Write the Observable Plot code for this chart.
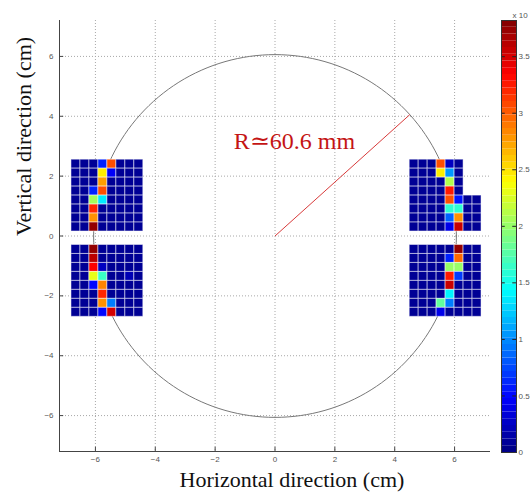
<!DOCTYPE html>
<html><head><meta charset="utf-8">
<script src="https://cdn.jsdelivr.net/npm/d3@7"></script>
<script src="https://cdn.jsdelivr.net/npm/@observablehq/plot@0.6"></script>
<style>
html,body{margin:0;padding:0;background:#fff;}
#chart{position:relative;width:532px;height:495px;overflow:hidden;}
#chart svg{position:absolute;top:0;}
</style>
</head><body><div id="chart"></div>
<script>
// ---- ticks & labels ----
const xTicks = [-6, -4, -2, 0, 2, 4, 6];
const yTicks = [-6, -4, -2, 0, 2, 4, 6];
const cbTicks = [0, 0.5, 1, 1.5, 2, 2.5, 3, 3.5];
const cbMax = 3.82;
const cbExponentLabel = "x 10";
const radiusCm = 6.06;
const radiusAngleDeg = 42;
const annotation = "R\u224360.6 mm";
const xLabel = "Horizontal direction (cm)";
const yLabel = "Vertical direction (cm)";

// ---- cell values (x 10^4), rows top -> bottom, cols left -> right ----
const b = 0.08;
const topLeftBlock = [
  [b, b, b, 0.6, 3.05, b, b, b],
  [b, b, b, 2.45, 0.45, b, b, b],
  [b, b, b, 2.75, b, b, b, b],
  [b, b, 0.6, 3.05, b, b, b, b],
  [b, b, 2.05, 1.35, b, b, b, b],
  [b, b, 3.2, b, b, b, b, b],
  [b, b, 2.8, b, b, b, b, b],
  [b, b, 3.75, b, b, b, b, b]
];
const bottomLeftBlock = [
  [b, b, 3.75, b, b, b, b, b],
  [b, b, 3.6, b, b, b, b, b],
  [b, b, 3.35, 0.25, b, b, b, b],
  [b, b, 2.3, 1.65, b, b, 0.2, b],
  [b, b, 0.5, 2.85, b, b, b, b],
  [b, b, b, 3.2, b, b, b, b],
  [b, b, b, 2.8, 0.95, b, b, b],
  [b, b, b, 0.5, 3.5, b, b, b]
];
const topRightBlock = [
  [b, b, b, 3.05, 0.25, b, null, null],
  [b, b, b, 2.45, 1.05, b, null, null],
  [b, b, b, b, 2.1, b, null, null],
  [b, b, b, b, 3.25, b, null, null],
  [b, b, b, b, 3.05, 0.55, b, b],
  [b, b, b, b, 1.6, 1.6, b, b],
  [b, b, b, b, 0.85, 2.8, b, b],
  [b, b, b, b, 0.4, 3.55, b, b]
];
const bottomRightBlock = [
  [b, b, b, b, b, 3.75, b, b],
  [b, b, b, b, 0.6, 2.95, b, b],
  [b, b, b, b, 2.0, 2.0, b, b],
  [b, b, b, b, 3.25, 0.7, b, b],
  [b, b, b, b, 3.55, b, b, b],
  [b, b, b, b, 1.4, b, b, b],
  [b, b, b, 1.8, 0.95, b, b, b],
  [b, b, b, 0.4, b, b, b, b]
];

// ---- layout (cm) ----
const cell = 0.3;
const leftX0 = -6.8, rightX0 = 4.5, topY0 = 2.55, bottomY0 = -0.3;

function blockCells(m, x0, y0) {
  const out = [];
  m.forEach((row, r) => row.forEach((v, c) => {
    if (v == null) return;
    out.push({x1: x0 + c * cell, x2: x0 + (c + 1) * cell, y1: y0 - (r + 1) * cell, y2: y0 - r * cell, v});
  }));
  return out;
}
const cells = [
  ...blockCells(topLeftBlock, leftX0, topY0),
  ...blockCells(bottomLeftBlock, leftX0, bottomY0),
  ...blockCells(topRightBlock, rightX0, topY0),
  ...blockCells(bottomRightBlock, rightX0, bottomY0)
];

const circlePts = d3.range(0, 361, 2).map(a => ({x: radiusCm * Math.cos(a * Math.PI / 180), y: radiusCm * Math.sin(a * Math.PI / 180)}));
const radiusLine = [{x1: 0, y1: 0, x2: radiusCm * Math.cos(radiusAngleDeg * Math.PI / 180), y2: radiusCm * Math.sin(radiusAngleDeg * Math.PI / 180)}];

const jetStops = ["#000080", "#0000ff", "#00ffff", "#ffff00", "#ff0000", "#800000"];
const colorOpts = {type: "linear", domain: [0, 0.125, 0.375, 0.625, 0.875, 1].map(t => t * cbMax), range: jetStops, interpolate: "rgb"};

const serif = "'Liberation Serif', 'DejaVu Serif', serif";
const sans = "'Liberation Sans', Arial, sans-serif";
const xmin = -7.2, ymin = -7.2;

const main = Plot.plot({
  width: 532, height: 495,
  marginLeft: 59, marginRight: 42, marginTop: 20, marginBottom: 44,
  x: {domain: [-7.2, 7.2]},
  y: {domain: [-7.2, 7.2]},
  color: colorOpts,
  style: {background: "transparent", fontFamily: sans},
  marks: [
    Plot.ruleX(xTicks, {stroke: "#a8a8a8", strokeDasharray: "1,2"}),
    Plot.ruleY(yTicks, {stroke: "#a8a8a8", strokeDasharray: "1,2"}),
    Plot.line(circlePts, {x: "x", y: "y", stroke: "#787878", strokeWidth: 1}),
    Plot.link(radiusLine, {x1: "x1", y1: "y1", x2: "x2", y2: "y2", stroke: "#d83a3a", strokeWidth: 1}),
    Plot.rect(cells, {x1: "x1", x2: "x2", y1: "y1", y2: "y2", fill: "v", stroke: "white", strokeOpacity: 0.5, strokeWidth: 1}),
    Plot.text([annotation], {x: -1.38, y: 3.17, text: d => d, textAnchor: "start", lineAnchor: "middle", fill: "#c41414", fontSize: 24, fontFamily: serif}),
    Plot.ruleX([xmin], {stroke: "#444"}),
    Plot.ruleY([ymin], {stroke: "#444"}),
    Plot.ruleX(xTicks, {y1: ymin, y2: ymin + 0.14, stroke: "#444"}),
    Plot.ruleY(yTicks, {x1: xmin, x2: xmin + 0.14, stroke: "#444"}),
    Plot.axisX(xTicks, {tickSize: 0, tickPadding: 5, fontSize: 8, fill: "#555", label: null}),
    Plot.axisY(yTicks, {tickSize: 0, tickPadding: 6, fontSize: 8, fill: "#555", label: null}),
    Plot.text([xLabel], {text: d => d, frameAnchor: "bottom", dy: 28, dx: 17, lineAnchor: "middle", fontSize: 22, fontFamily: serif, fill: "#111"}),
    Plot.text([yLabel], {text: d => d, frameAnchor: "left", rotate: -90, dx: -36, lineAnchor: "middle", fontSize: 22, fontFamily: serif, fill: "#111"})
  ]
});

const cbLevels = d3.range(64).map(i => ({y1: i * cbMax / 64, y2: (i + 1) * cbMax / 64, v: (i + 0.5) * cbMax / 64}));
const cb = Plot.plot({
  width: 31, height: 495,
  marginLeft: 0, marginRight: 16, marginTop: 20, marginBottom: 43,
  x: {domain: [0, 1], axis: null},
  y: {domain: [0, cbMax]},
  color: colorOpts,
  style: {background: "transparent", fontFamily: sans, overflow: "visible"},
  marks: [
    Plot.rect(cbLevels, {x1: 0, x2: 1, y1: "y1", y2: "y2", fill: "v"}),
    Plot.ruleY(cbTicks, {x1: 0, x2: 0.25, stroke: "#222"}),
    Plot.ruleY(cbTicks, {x1: 0.75, x2: 1, stroke: "#222"}),
    Plot.frame({stroke: "#333"}),
    Plot.axisY(cbTicks, {anchor: "right", tickSize: 0, tickPadding: 2, fontSize: 8, fill: "#555", label: null, tickFormat: d => String(d)}),
    Plot.text([cbExponentLabel], {text: d => d, frameAnchor: "top-right", textAnchor: "start", dx: -4, dy: -8, fontSize: 8, fill: "#555"})
  ]
});

const chart = document.getElementById("chart");
main.style.left = "0px";
cb.style.left = "501px";
chart.appendChild(main);
chart.appendChild(cb);
</script>
</body></html>
